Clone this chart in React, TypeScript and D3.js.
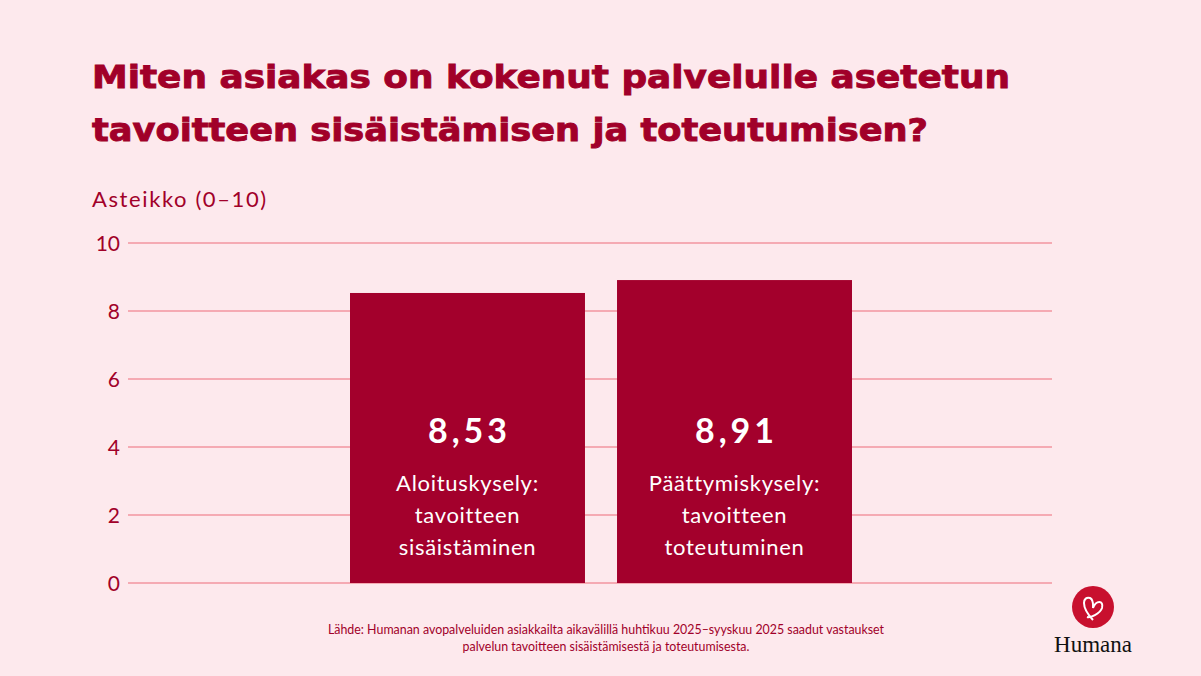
import * as d3 from 'd3';
import React, { useEffect, useRef } from 'react';

const categories = ['Aloituskysely', 'Päättymiskysely'];
const values = [8.53, 8.91];
const valueLabels = ['8,53', '8,91'];
const barLines = [
    ['Aloituskysely:', 'tavoitteen', 'sisäistäminen'],
    ['Päättymiskysely:', 'tavoitteen', 'toteutuminen'],
];
const yTicks = [0, 2, 4, 6, 8, 10];
const titleLines = ['Miten asiakas on kokenut palvelulle asetetun', 'tavoitteen sisäistämisen ja toteutumisen?'];
const titleWidths = [918, 836];
const sourceLines = [
    'Lähde: Humanan avopalveluiden asiakkailta aikavälillä huhtikuu 2025–syyskuu 2025 saadut vastaukset',
    'palvelun tavoitteen sisäistämisestä ja toteutumisesta.',
];

const width = 1201;
const height = 676;
const dark = '#a10029';
const bg = '#fde9ed';
const grid = '#f2949f';
const font = 'Lato, "Open Sans", sans-serif';

export default function App() {
    const ref = useRef<SVGSVGElement>(null);

    useEffect(() => {
        const svg = d3.select(ref.current);
        svg.selectAll('*').remove();

        svg.append('rect').attr('width', width).attr('height', height).attr('fill', bg);

        const x = d3.scaleBand().domain(categories).range([350, 852]).paddingInner(0.12).paddingOuter(0);
        const y = d3.scaleLinear().domain([0, 10]).range([583, 243]);

        // title (heavy geometric look: bold + thin stroke)
        svg.append('g')
            .selectAll('text')
            .data(titleLines)
            .join('text')
            .attr('x', 92)
            .attr('y', (d, i) => 88 + i * 53)
            .attr('fill', dark)
            .attr('stroke', dark)
            .attr('stroke-width', 0.9)
            .attr('textLength', (d, i) => titleWidths[i])
            .attr('lengthAdjust', 'spacingAndGlyphs')
            .style('font-family', '"DejaVu Sans", sans-serif')
            .style('font-weight', 700)
            .style('font-size', '32px')
            .text((d) => d);

        svg.append('text')
            .attr('x', 92)
            .attr('y', 207)
            .attr('fill', dark)
            .style('font-family', font)
            .style('font-size', '22px')
            .style('letter-spacing', '1.6px')
            .text('Asteikko (0–10)');

        // grid + ticks
        const g = svg.append('g');
        g.selectAll('line')
            .data(yTicks)
            .join('line')
            .attr('x1', 128)
            .attr('x2', 1052)
            .attr('y1', (d) => y(d))
            .attr('y2', (d) => y(d))
            .attr('stroke', grid)
            .attr('stroke-width', 1.5);
        g.selectAll('text')
            .data(yTicks)
            .join('text')
            .attr('x', 120)
            .attr('y', (d) => y(d))
            .attr('dy', '0.36em')
            .attr('text-anchor', 'end')
            .attr('fill', dark)
            .style('font-family', font)
            .style('font-size', '21px')
            .text((d) => d);

        // bars
        const bars = svg.append('g');
        bars.selectAll('rect')
            .data(values)
            .join('rect')
            .attr('x', (d, i) => x(categories[i])!)
            .attr('width', x.bandwidth())
            .attr('y', (d) => y(d))
            .attr('height', (d) => y(0) - y(d))
            .attr('fill', '#a3002c');

        bars.selectAll('text.val')
            .data(valueLabels)
            .join('text')
            .attr('class', 'val')
            .attr('x', (d, i) => x(categories[i])! + x.bandwidth() / 2 + 2)
            .attr('y', 443)
            .attr('text-anchor', 'middle')
            .attr('fill', '#fff')
            .style('font-family', font)
            .style('font-weight', 700)
            .style('font-size', '34px')
            .style('letter-spacing', '4px')
            .text((d) => d);

        barLines.forEach((lines, i) => {
            bars.append('g')
                .selectAll('text')
                .data(lines)
                .join('text')
                .attr('x', x(categories[i])! + x.bandwidth() / 2)
                .attr('y', (d, j) => 491 + j * 32)
                .attr('text-anchor', 'middle')
                .attr('fill', '#fff')
                .style('font-family', font)
                .style('font-size', '22px')
                .style('letter-spacing', '0.7px')
                .text((d) => d);
        });

        // source
        svg.append('g')
            .selectAll('text')
            .data(sourceLines)
            .join('text')
            .attr('x', 606)
            .attr('y', (d, i) => 634 + i * 17)
            .attr('text-anchor', 'middle')
            .attr('fill', dark)
            .style('font-family', font)
            .style('font-size', '12.4px')
            .text((d) => d);

        // logo
        svg.append('circle').attr('cx', 1093).attr('cy', 607).attr('r', 21).attr('fill', '#c8102e');
        svg.append('path')
            .attr('d', 'M1093 620 C1080 606 1083 596 1090 598 C1094 600 1093 606 1093 608 C1096 600 1104 600 1102 608 C1100 614 1090 618 1087 617')
            .attr('fill', 'none')
            .attr('stroke', '#fff')
            .attr('stroke-width', 2);
        svg.append('text')
            .attr('x', 1093)
            .attr('y', 652)
            .attr('text-anchor', 'middle')
            .attr('fill', '#111')
            .style('font-family', '"Liberation Serif", serif')
            .style('font-size', '23px')
            .text('Humana');
    }, []);

    return <svg ref={ref} width={width} height={height} style={{ display: 'block', position: 'absolute', left: 0, top: 0 }} />;
}
